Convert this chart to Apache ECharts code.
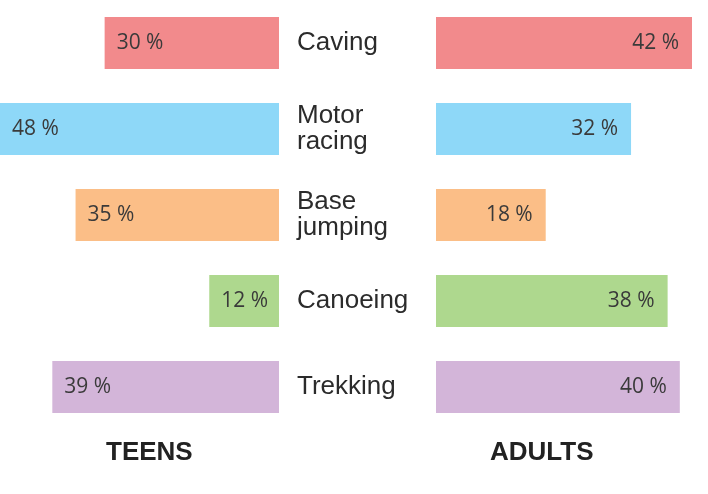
<!DOCTYPE html>
<html>
<head>
<meta charset="utf-8">
<script src="https://cdn.jsdelivr.net/npm/echarts@6/dist/echarts.min.js"></script>
</head>
<body style="margin:0;background:#fff;">
<div id="main" style="width: 708px;height:494px;"></div>

<script type="text/javascript">
// data
var sports = ['Caving', 'Motor\nracing', 'Base\njumping', 'Canoeing', 'Trekking'];
var teens = [30, 48, 35, 12, 39];
var adults = [42, 32, 18, 38, 40];
var groups = ['TEENS', 'ADULTS'];

var colors = ['#f28a8c', '#8ed8f8', '#fbbe87', '#aed88e', '#d3b5d9'];

function barColor(p) {
    return colors[p.dataIndex];
}

var valueLabel = {
    show: true,
    formatter: '{c} %',
    fontFamily: 'Open Sans',
    fontSize: 21,
    color: '#3a3a3a'
};

var titleStyle = { fontFamily: 'Liberation Sans', fontSize: 26, fontWeight: 'bold', color: '#222' };

var option = {
    animation: false,
    backgroundColor: '#fff',
    title: [
        { text: groups[0], left: 101, top: 435, textStyle: titleStyle },
        { text: groups[1], left: 485, top: 435, textStyle: titleStyle }
    ],
    grid: [
        { left: 0, right: 429, top: 0, bottom: 64 },
        { left: 436, width: 256, top: 0, bottom: 64 }
    ],
    xAxis: [
        { gridIndex: 0, type: 'value', inverse: true, min: 0, max: 48, show: false },
        { gridIndex: 1, type: 'value', min: 0, max: 42, show: false }
    ],
    yAxis: [{
        gridIndex: 0,
        type: 'category',
        data: sports,
        inverse: true,
        show: false
    }, {
        gridIndex: 1,
        type: 'category',
        data: sports,
        inverse: true,
        axisLine: { show: false },
        axisTick: { show: false },
        splitLine: { show: false },
        axisLabel: {
            margin: 139,
            align: 'left',
            fontFamily: 'Liberation Sans',
            fontSize: 26,
            lineHeight: 26,
            padding: [0, 0, 8, 0],
            color: '#2b2b2b'
        }
    }],
    series: [{
        name: groups[0],
        type: 'bar',
        xAxisIndex: 0,
        yAxisIndex: 0,
        barWidth: 52,
        data: teens,
        itemStyle: { color: barColor },
        label: Object.assign({ position: 'insideLeft', distance: 12 }, valueLabel)
    }, {
        name: groups[1],
        type: 'bar',
        xAxisIndex: 1,
        yAxisIndex: 1,
        barWidth: 52,
        data: adults,
        itemStyle: { color: barColor },
        label: Object.assign({ position: 'insideRight', distance: 13 }, valueLabel)
    }]
};

var myChart = echarts.init(document.getElementById('main'));
myChart.setOption(option);
</script>
</body>
</html>
